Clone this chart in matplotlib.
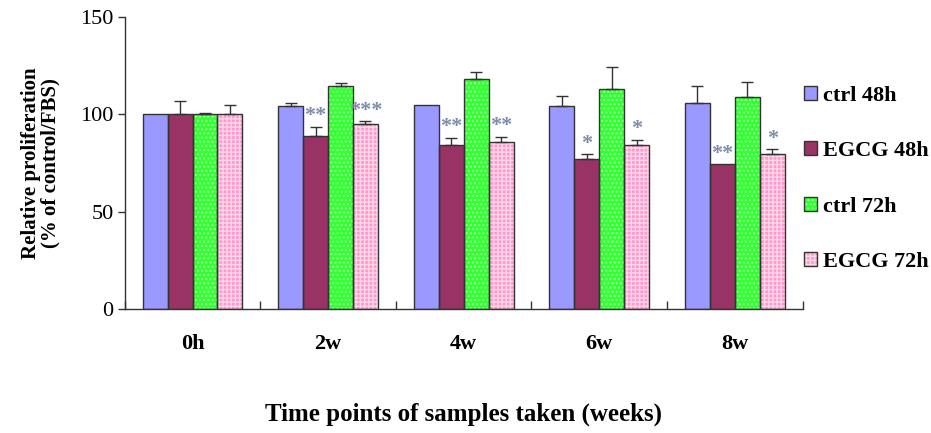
import matplotlib
matplotlib.use("Agg")
import matplotlib.pyplot as plt
from matplotlib.patches import Patch
import numpy as np

plt.rcParams['font.family'] = ['Liberation Serif', 'DejaVu Serif']

# data
timepoints = ["0h", "2w", "4w", "6w", "8w"]
series = ["ctrl 48h", "EGCG 48h", "ctrl 72h", "EGCG 72h"]

ctrl48 = [100, 104.3, 104.8, 104.3, 106.0]
egcg48 = [100, 89.0, 84.0, 76.9, 74.3]
ctrl72 = [100, 114.5, 118.3, 113.2, 108.7]
egcg72 = [100, 94.8, 85.8, 84.0, 79.5]

ctrl48_err = [0, 1.7, 0, 5.1, 8.7]
egcg48_err = [6.8, 4.6, 4.0, 2.6, 0]
ctrl72_err = [0.5, 1.5, 3.4, 10.9, 8.1]
egcg72_err = [4.8, 1.7, 2.7, 2.8, 2.5]

egcg48_sig = ["", "**", "**", "*", "**"]
egcg72_sig = ["", "***", "**", "*", "*"]

values = [ctrl48, egcg48, ctrl72, egcg72]
errors = [ctrl48_err, egcg48_err, ctrl72_err, egcg72_err]
signif = [None, egcg48_sig, None, egcg72_sig]

face = ["#9999ff", "#993366", "#33ff33", "#ff99cc"]
hatch = [None, None, "....", "++++"]
hatch_col = [None, None, "#99ff99", "#ffd6ea"]
outline = "#333333"

fig = plt.figure(figsize=(9.31, 4.33), dpi=100)
ax = fig.add_axes([0.134, 0.286, 0.728, 0.675])

x = np.arange(len(timepoints))
w = 0.184
handles = []
for i in range(len(series)):
    pos = x + (i - 1.5) * w
    if hatch[i]:
        ax.bar(pos, values[i], w, color=face[i], hatch=hatch[i],
               edgecolor=hatch_col[i], linewidth=0, zorder=2)
    else:
        ax.bar(pos, values[i], w, color=face[i], linewidth=0, zorder=2)
    ax.bar(pos, values[i], w, fill=False, edgecolor=outline, linewidth=1.0, zorder=3)
    err = np.array(errors[i])
    mask = err > 0
    ax.errorbar(pos[mask], np.array(values[i])[mask], yerr=[np.zeros(mask.sum()), err[mask]],
                fmt="none", ecolor=outline, elinewidth=1.0, capsize=4, capthick=1.0, zorder=4)
    if signif[i]:
        for p, v, e, s in zip(pos, values[i], errors[i], signif[i]):
            if s:
                ax.text(p, v + e + 0.3, s, ha="center", va="bottom",
                        fontsize=16, color="#7d8ca8", fontweight="bold")
    h_fill = Patch(facecolor=face[i], hatch=hatch[i],
                   edgecolor=hatch_col[i] if hatch[i] else face[i], linewidth=0)
    h_line = Patch(fill=False, edgecolor=outline, linewidth=1.0)
    handles.append((h_fill, h_line))

ax.set_xlim(-0.5, len(timepoints) - 0.5)
ax.set_ylim(0, 150)
ax.set_yticks([0, 50, 100, 150])
ax.tick_params(axis="y", direction="out", length=5, width=1, colors=outline,
               labelsize=16, labelcolor="black", pad=3)

# category boundaries as ticks, labels at centres
ax.set_xticks(np.arange(-0.5, len(timepoints), 1.0))
ax.set_xticklabels([])
ax.set_xticks(x, minor=True)
ax.set_xticklabels(timepoints, minor=True, fontsize=16, fontweight="bold")
ax.tick_params(axis="x", which="major", direction="in", length=6, width=1, colors=outline)
ax.tick_params(axis="x", which="minor", length=0, pad=18, labelcolor="black")

for s in ["top", "right"]:
    ax.spines[s].set_visible(False)
for s in ["left", "bottom"]:
    ax.spines[s].set_color(outline)
    ax.spines[s].set_linewidth(1)

ax.set_ylabel("Relative proliferation\n(% of control/FBS)", fontsize=15,
              fontweight="bold", labelpad=14, linespacing=1.0)
ax.set_xlabel("Time points of samples taken (weeks)", fontsize=18,
              fontweight="bold", labelpad=35)

ax.legend(handles, series, loc="upper left", bbox_to_anchor=(1.002, 0.765),
          frameon=False, prop={"size": 16, "weight": "bold"},
          handlelength=0.6, handleheight=0.6, handletextpad=0.25,
          labelspacing=1.6, borderaxespad=0, borderpad=0)

fig.savefig("out.png", dpi=100)
